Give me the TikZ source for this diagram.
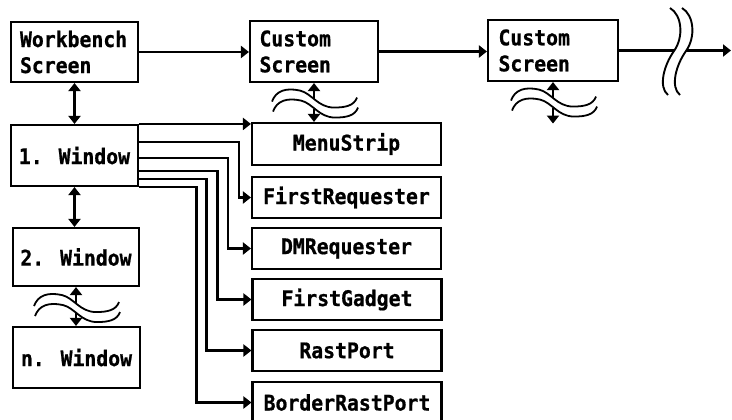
\documentclass[tikz,border=0pt]{standalone}
\usepackage{fontspec}
\newfontfamily\boxfont[FakeStretch=0.92,FakeBold=0.8]{DejaVu Sans Mono Bold}
\usetikzlibrary{arrows.meta,calc}
\begin{document}
\begin{tikzpicture}[x=1pt,y=-1pt,line width=2.1pt,
  box/.style={draw, rectangle, inner sep=0pt,
    font=\boxfont\fontsize{21.5}{26}\selectfont},
  scrbox/.style={box, minimum width=128pt, minimum height=61pt, text width=109pt, align=left},
  winbox/.style={box, minimum width=127pt, minimum height=60pt},
  rbox/.style={box, minimum width=189pt, minimum height=41pt},
  arr/.style={-{Triangle[length=8pt,width=12pt]}},
  dbl/.style={{Triangle[length=8pt,width=12pt]}-{Triangle[length=8pt,width=12pt]}},
  wave/.pic={
    \draw[line width=1.8pt] (-42,4) .. controls (-38,-7) and (-28,-10) .. (-14,-7)
      .. controls (-2,-4) and (4,10) .. (20,10) .. controls (32,10) and (40,8) .. (43,0);
    \draw[line width=1.8pt] (-41,14) .. controls (-37,3) and (-27,0) .. (-13,3)
      .. controls (-1,6) and (5,20) .. (21,20) .. controls (33,20) and (41,18) .. (44,10);
  },
  brk/.pic={
    \draw[line width=1.9pt] (-3,-43) .. controls (9,-36) and (11,-14) .. (1,0)
      .. controls (-9,14) and (-15,36) .. (-5,44);
  }]
\useasboundingbox (0,0) rectangle (732,420);
\clip (0,0) rectangle (732,420);

% screens
\node[scrbox, minimum width=127pt, minimum height=60pt] (wb) at (74.5,52) {Workbench\\Screen};
\node[scrbox] (cs1) at (314,51.5) {Custom\\Screen};
\node[scrbox, minimum width=130pt] (cs2) at (553,50.5) {Custom\\Screen};

% windows
\node[winbox, minimum height=61pt] (w1) at (74.5,155.5) {1. Window};
\node[winbox, minimum width=126pt, minimum height=58pt] (w2) at (76,257) {2. Window};
\node[winbox, minimum height=61pt] (wn) at (76.5,357.5) {n. Window};

% window structures
\node[rbox, minimum height=42pt] (ms) at (346.5,144) {MenuStrip};
\node[rbox] (fr) at (346.5,197.5) {FirstRequester};
\node[rbox] (dm) at (346.5,248.5) {DMRequester};
\node[rbox] (fg) at (347,299.5) {FirstGadget};
\node[rbox] (rp) at (347,350.5) {RastPort};
\node[rbox] (brp) at (347,402.5) {BorderRastPort};

% screen chain
\draw[arr] (wb.east) -- (wb.east -| cs1.west);
\draw[arr] (cs1.east) -- (cs1.east -| cs2.west);
\coordinate (brkA) at (674,50.5);
\coordinate (brkB) at (686,50.5);
\coordinate (chainEnd) at (731,50.5);
\draw (cs2.east) -- (brkA);
\draw[arr] (brkB) -- (chainEnd);
\pic at (673,51) {brk};
\pic at (685,51) {brk};

% screen to windows
\draw[dbl] (wb.south) -- (wb.south |- w1.north);
\draw[dbl] (w1.south) -- (w1.south |- w2.north);

% broken links
\pic at ($(cs1.south)+(0,14.5)$) {wave};
\draw[arr] ($(cs1.south)+(0,15.5)$) -- (cs1.south);
\draw[arr] ($(cs1.south)+(0,25.5)$) -- (cs1.south |- ms.north);

\pic at ($(cs2.south)+(0,14.5)$) {wave};
\coordinate (cs2Next) at ($(cs2.south)+(0,41.5)$);
\draw[arr] ($(cs2.south)+(0,15.5)$) -- (cs2.south);
\draw[arr] ($(cs2.south)+(0,25.5)$) -- (cs2Next);

\pic at ($(w2.south)+(0,15)$) {wave};
\draw[arr] ($(w2.south)+(0,16)$) -- (w2.south);
\draw[arr] ($(w2.south)+(0,26)$) -- (w2.south |- wn.north);

% links from the first window
\draw[arr] (w1.north east) -- (w1.north east -| ms.west);
\draw[arr] ([yshift=13.5pt]w1.east) -| ($(fr.west)+(-12,0)$) -- (fr.west);
\draw[arr] ([yshift=-2.5pt]w1.east) -| ($(dm.west)+(-23,0)$) -- (dm.west);
\draw[arr] ([yshift=-15.5pt]w1.east) -| ($(fg.west)+(-34,0)$) -- (fg.west);
\draw[arr] ([yshift=-23.5pt]w1.east) -| ($(rp.west)+(-45,0)$) -- (rp.west);
\draw[arr] (w1.south east) -| ($(brp.west)+(-55,0)$) -- (brp.west);
\end{tikzpicture}
\end{document}
